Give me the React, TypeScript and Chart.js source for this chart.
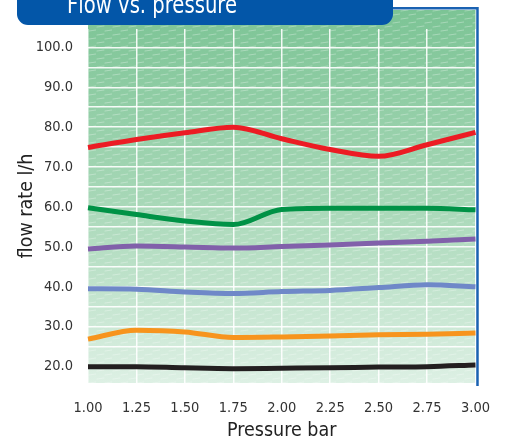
import React, { useEffect, useRef } from 'react';
import { Chart, registerables } from 'chart.js';

Chart.register(...registerables);

// ---- data ----
const pressures = [1.0, 1.25, 1.5, 1.75, 2.0, 2.25, 2.5, 2.75, 3.0];
const redSeries = [74.9, 76.9, 78.6, 80.0, 77.1, 74.4, 72.7, 75.6, 78.7];
const greenSeries = [59.8, 58.1, 56.5, 55.6, 59.4, 59.7, 59.7, 59.7, 59.3];
const purpleSeries = [49.5, 50.2, 50.0, 49.7, 50.1, 50.5, 51.0, 51.4, 52.0];
const blueSeries = [39.5, 39.4, 38.7, 38.3, 38.8, 39.1, 39.8, 40.5, 40.0];
const orangeSeries = [26.9, 29.1, 28.7, 27.3, 27.45, 27.7, 28.0, 28.1, 28.4];
const blackSeries = [20.0, 20.0, 19.7, 19.5, 19.6, 19.7, 19.9, 20.0, 20.4];

const chartTitle = 'Flow vs. pressure';
const xTitle = 'Pressure bar';
const yTitle = 'flow rate l/h';

const FONT = '"Liberation Sans Narrow", "DejaVu Sans Condensed", "Liberation Sans", sans-serif';
const BLUE = '#0356a8';

function makePattern(ctx: CanvasRenderingContext2D) {
  const c = document.createElement('canvas');
  c.width = 16;
  c.height = 8;
  const p = c.getContext('2d')!;
  p.strokeStyle = 'rgba(255,255,255,0.3)';
  p.lineWidth = 1.2;
  p.lineCap = 'round';
  p.beginPath();
  p.moveTo(1, 3);
  p.lineTo(8, 2);
  p.moveTo(9, 7);
  p.lineTo(16, 6);
  p.stroke();
  return ctx.createPattern(c, 'repeat');
}

const decorPlugin = {
  id: 'decor',
  beforeDraw(chart: any) {
    const { ctx, chartArea } = chart;
    const top = 10;
    const { left, right, bottom } = chartArea;
    ctx.save();
    const g = ctx.createLinearGradient(0, top, 0, bottom);
    g.addColorStop(0, '#7cc495');
    g.addColorStop(0.5, '#a6d7b6');
    g.addColorStop(1, '#ddf0e4');
    ctx.fillStyle = g;
    ctx.fillRect(left, top, right - left, bottom - top);
    const pat = makePattern(ctx);
    if (pat) {
      ctx.fillStyle = pat;
      ctx.fillRect(left, top, right - left, bottom - top);
    }
    ctx.restore();
  },
  afterDraw(chart: any) {
    const { ctx, chartArea } = chart;
    ctx.save();
    // frame lines
    ctx.strokeStyle = '#1a62b2';
    ctx.lineWidth = 2.5;
    ctx.beginPath();
    ctx.moveTo(390, 8.3);
    ctx.lineTo(chartArea.right + 2, 8.3);
    ctx.lineTo(chartArea.right + 2, chartArea.bottom + 3);
    ctx.stroke();
    // title tab
    const x0 = 17, x1 = 393, y0 = -2, y1 = 25, r = 11;
    ctx.fillStyle = BLUE;
    ctx.beginPath();
    ctx.moveTo(x0, y0);
    ctx.lineTo(x1, y0);
    ctx.lineTo(x1, y1 - r);
    ctx.arcTo(x1, y1, x1 - r, y1, r);
    ctx.lineTo(x0 + r, y1);
    ctx.arcTo(x0, y1, x0, y1 - r, r);
    ctx.closePath();
    ctx.fill();
    ctx.fillStyle = '#ffffff';
    ctx.font = `25px ${FONT}`;
    ctx.textAlign = 'center';
    ctx.textBaseline = 'alphabetic';
    const w = ctx.measureText(chartTitle).width;
    const sx = Math.min(1, 170 / w);
    ctx.translate(152, 13);
    ctx.scale(sx, 1);
    ctx.fillText(chartTitle, 0, 0);
    ctx.restore();
  },
};

export default function App() {
  const ref = useRef<HTMLCanvasElement | null>(null);
  useEffect(() => {
    if (!ref.current) return;
    const mk = (values: number[], color: string) => ({
      data: pressures.map((x, i) => ({ x, y: values[i] })),
      borderColor: color,
      backgroundColor: color,
      borderWidth: 5,
      pointRadius: 0,
      cubicInterpolationMode: 'monotone' as const,
      fill: false,
      clip: 8,
    });
    const chart = new Chart(ref.current, {
      type: 'line',
      data: {
        datasets: [
          mk(blackSeries, '#231f20'),
          mk(orangeSeries, '#f7941d'),
          mk(blueSeries, '#6f88c8'),
          mk(purpleSeries, '#8160aa'),
          mk(greenSeries, '#009246'),
          mk(redSeries, '#ec1c24'),
        ],
      },
      options: {
        animation: false,
        responsive: false,
        layout: { padding: { left: 0, right: 31, top: 29, bottom: 0 } },
        plugins: { legend: { display: false }, tooltip: { enabled: false } },
        scales: {
          x: {
            type: 'linear',
            min: 1,
            max: 3,
            border: { display: false },
            grid: { color: 'rgba(255,255,255,0.9)', lineWidth: 1.5, drawTicks: false },
            ticks: {
              stepSize: 0.25,
              padding: 17,
              color: '#333333',
              font: { family: FONT, size: 14.5 },
              callback: (v: any) => Number(v).toFixed(2),
            },
            title: {
              display: true,
              text: xTitle,
              color: '#222222',
              font: { family: FONT, size: 19.5 },
              padding: { top: 0, bottom: 1 },
            },
            afterFit: (s: any) => {
              s.height = 61;
            },
          },
          y: {
            min: 15.9,
            max: 104.6,
            border: { display: false },
            grid: { color: 'rgba(255,255,255,0.9)', lineWidth: 1.5, drawTicks: false },
            ticks: {
              stepSize: 5,
              includeBounds: false,
              padding: 15,
              color: '#333333',
              font: { family: FONT, size: 14.5 },
              callback: (v: any) => (Math.round(v) % 10 === 0 ? Number(v).toFixed(1) : ''),
            },
            title: {
              display: true,
              text: yTitle,
              color: '#222222',
              font: { family: FONT, size: 19.5 },
              padding: { top: 15, bottom: 0 },
            },
            afterFit: (s: any) => {
              s.width = 88;
            },
          },
        },
      },
      plugins: [decorPlugin],
    } as any);
    return () => chart.destroy();
  }, []);
  return (
    <div style={{ position: 'absolute', left: 0, top: 0, width: 507, height: 444 }}>
      <canvas ref={ref} width={507} height={444} style={{ width: 507, height: 444, display: 'block' }} />
    </div>
  );
}
